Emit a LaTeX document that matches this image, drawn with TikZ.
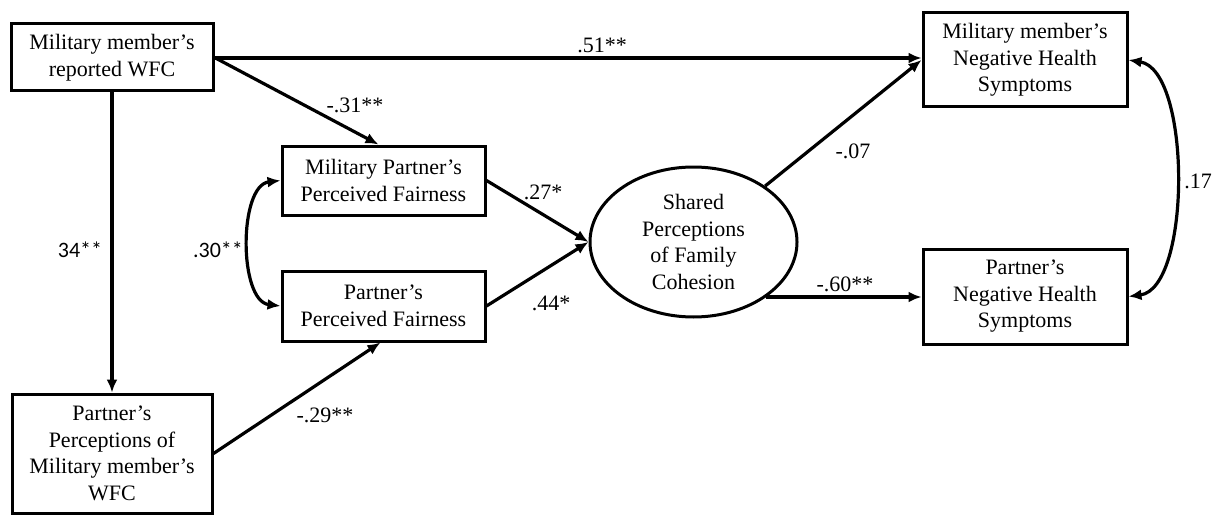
\documentclass[tikz,border=0pt]{standalone}
\usepackage{fontspec}
\setmainfont{Liberation Serif}
\newfontfamily\calfont{Carlito}
\usetikzlibrary{arrows.meta,calc,shapes.geometric}
\tikzset{
  box/.style={draw,line width=3pt,rectangle,inner sep=0pt,align=center,font=\fontsize{22}{26.5}\selectfont},
  oval/.style={draw,line width=3pt,ellipse,inner sep=0pt,align=center,font=\fontsize{22}{26.5}\selectfont},
  path/.style={line width=3.2pt,-{Latex[length=13pt,width=11pt]}},
  twoway/.style={line width=3.2pt,{Latex[length=13pt,width=11pt]}-{Latex[length=13pt,width=11pt]}},
  lab/.style={font=\fontsize{22}{26}\selectfont,inner sep=0pt},
  clab/.style={font=\calfont\fontsize{22}{26}\selectfont,inner sep=0pt}
}
\begin{document}
\begin{tikzpicture}[x=1pt,y=-1pt]
\useasboundingbox (0,0) rectangle (1217,516);
\node[box,minimum width=202pt,minimum height=67pt] (A) at (112,57.5) {Military member's\\reported WFC};
\node[box,minimum width=200pt,minimum height=119pt] (B) at (112,453.5) {Partner's\\Perceptions of\\Military member's\\WFC};
\node[box,minimum width=203pt,minimum height=69pt] (C) at (383.5,180.5) {Military Partner's\\Perceived Fairness};
\node[box,minimum width=203pt,minimum height=70pt] (D) at (383.5,306) {Partner's\\Perceived Fairness};
\node[oval,minimum width=207pt,minimum height=150pt] (S) at (693.5,242) {Shared\\Perceptions\\of Family\\Cohesion};
\node[box,minimum width=204pt,minimum height=94pt] (E) at (1025,60) {Military member's\\Negative Health\\Symptoms};
\node[box,minimum width=204pt,minimum height=95pt] (F) at (1025,296.5) {Partner's\\Negative Health\\Symptoms};

\draw[path] (A.east |- 0,58) -- (E.west |- 0,58);
\draw[path] (A.east) -- ($(C.north)+(-5,0)$);
\draw[path] (A.south) -- (B.north);
\draw[twoway] (C.west) .. controls ($(C.west)+(-42,5)$) and ($(D.west)+(-42,-5)$) .. (D.west);
\draw[path] (C.east) -- (S.west);
\draw[path] (D.east) -- (S.west);
\draw[path] (B.east) -- ($(D.south)+(-3,0)$);
\draw[path] (S.38) -- (E.west);
\draw[path] (S.-37) -- (S.-37 -| F.west);
\draw[twoway] (E.east) .. controls ($(E.east)+(63,10)$) and ($(F.east)+(63,-8)$) .. (F.east);

\node[lab] (l51) at (602,45) {.51**};
\node[lab] (l31) at (355,105) {-.31**};
\node[clab] (l34) at (80,250) {34**};
\node[clab] (l30) at (218,250) {.30**};
\node[lab] (l27) at (543,192) {.27*};
\node[lab] (l44) at (551,303) {.44*};
\node[lab] (l29) at (325,415) {-.29**};
\node[lab] (l07) at (853,151) {-.07};
\node[lab] (l60) at (845,284) {-.60**};
\node[lab] (l17) at (1198,181) {.17};
\end{tikzpicture}
\end{document}
